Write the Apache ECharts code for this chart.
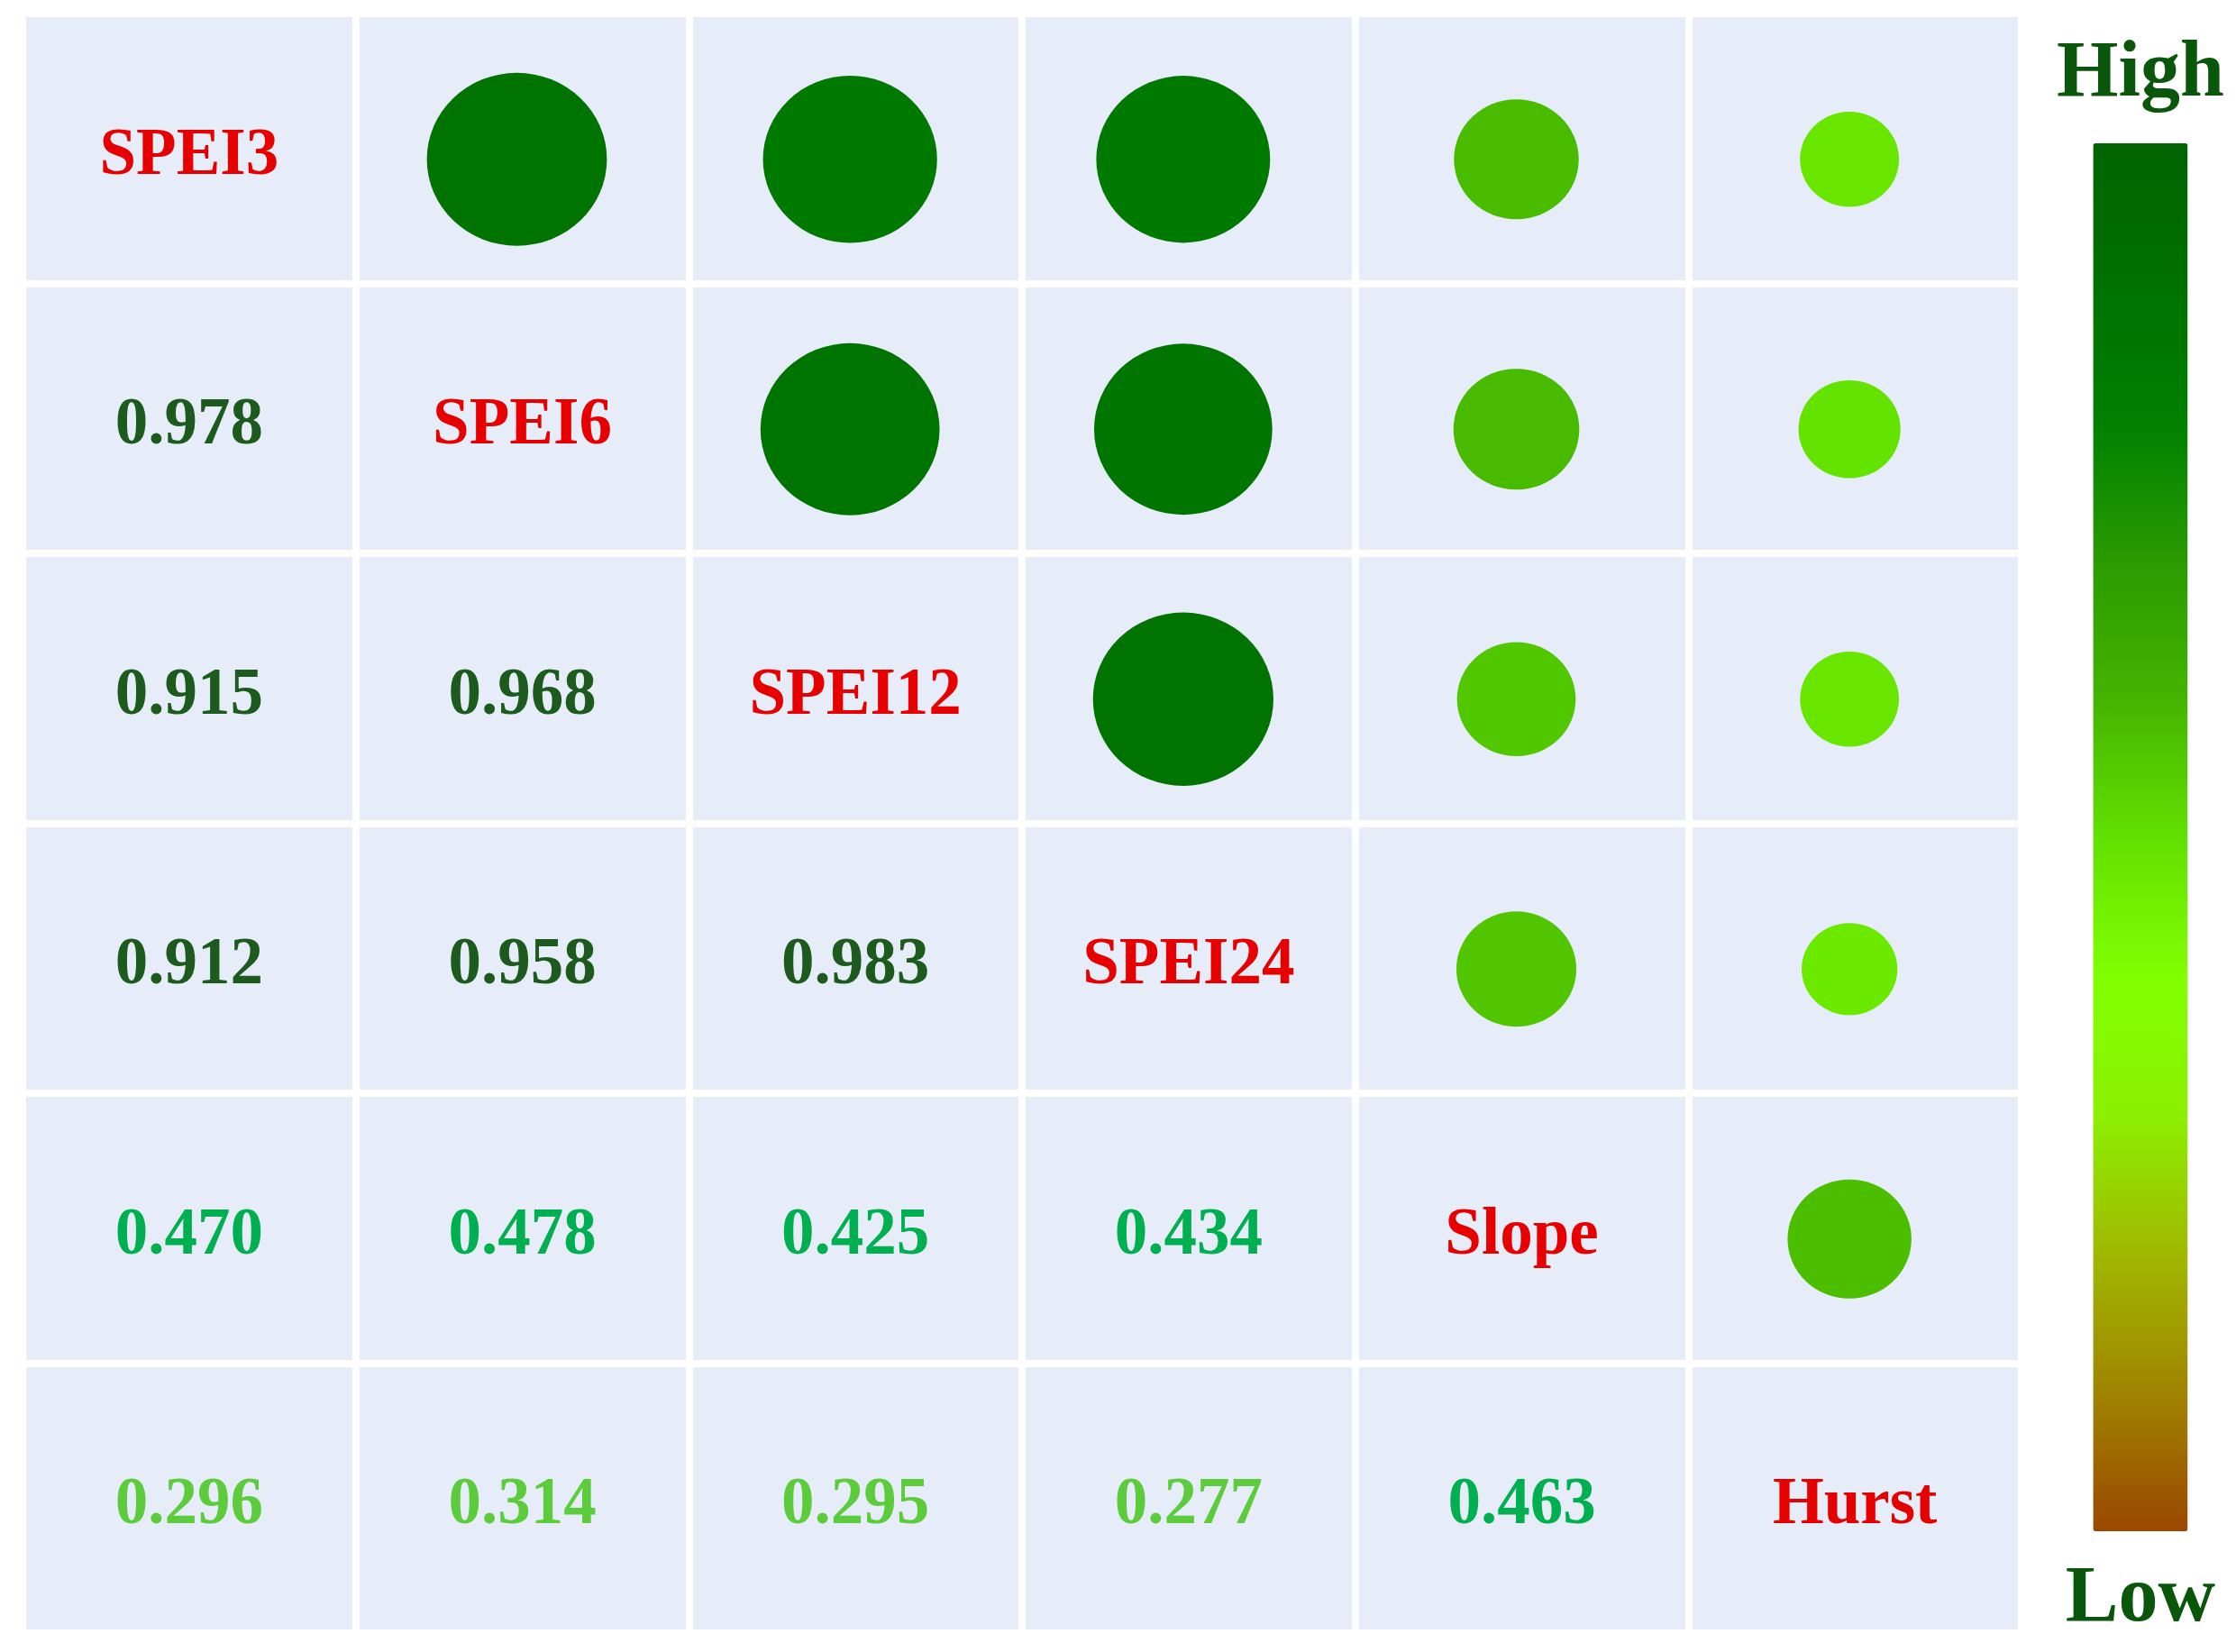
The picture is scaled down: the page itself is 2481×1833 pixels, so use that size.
<!DOCTYPE html>
<html>
<head>
<meta charset="utf-8">
<title>SPEI correlation matrix</title>
<script src="https://cdn.jsdelivr.net/npm/echarts@6/dist/echarts.min.js"></script>
<style>
html, body { margin: 0; padding: 0; background: #fff; }
#chart { width: 2481px; height: 1833px; }
</style>
</head>
<body>
<div id="chart"></div>
<script>
const names = ['SPEI3', 'SPEI6', 'SPEI12', 'SPEI24', 'Slope', 'Hurst'];
// lower triangle of the correlation matrix, one array per row
const rSPEI6 = [0.978];
const rSPEI12 = [0.915, 0.968];
const rSPEI24 = [0.912, 0.958, 0.983];
const rSlope = [0.470, 0.478, 0.425, 0.434];
const rHurst = [0.296, 0.314, 0.295, 0.277, 0.463];
const lowerRows = [[], rSPEI6, rSPEI12, rSPEI24, rSlope, rHurst];

// colour bar stops, low -> high
const barColors = ['#9a4800', '#a08400', '#a0b800', '#8cf000', '#80ff00', '#62e000',
                   '#44b400', '#2a9a00', '#008000', '#007000', '#006400'];

function numColor(v) {
  if (v > 0.8) return '#1d5a1d';
  if (v > 0.4) return '#00b050';
  return '#5ccc3c';
}

const circles = [];  // upper triangle -> [col, row, r]
const numbers = [];  // lower triangle text
const diag = [];
lowerRows.forEach((row, i) => {
  row.forEach((r, j) => {
    circles.push([i, j, r]);
    numbers.push({ value: [j, i, r], label: { color: numColor(r) } });
  });
  diag.push([i, i]);
});

const font = 'Liberation Serif';
let chart = echarts.init(document.getElementById('chart'));
let option = {
  backgroundColor: '#ffffff',
  animation: false,
  grid: { left: 25, right: 238, top: 15, bottom: 21 },
  xAxis: {
    type: 'category',
    data: names,
    z: 1,
    axisLine: { show: false },
    axisTick: { show: false },
    axisLabel: { show: false },
    splitArea: { show: true, areaStyle: { color: ['#e7edf8', '#e7edf8'] } },
    splitLine: { show: true, lineStyle: { color: '#ffffff', width: 8 } }
  },
  yAxis: {
    type: 'category',
    data: names,
    inverse: true,
    z: 2,
    axisLine: { show: false },
    axisTick: { show: false },
    axisLabel: { show: false },
    splitLine: { show: true, lineStyle: { color: '#ffffff', width: 8 } }
  },
  visualMap: {
    type: 'continuous',
    seriesIndex: 0,
    min: -0.52,
    max: 1.18,
    calculable: false,
    hoverLink: false,
    orient: 'vertical',
    left: 2267,
    top: 24,
    itemWidth: 105,
    itemHeight: 1540,
    text: ['High', 'Low'],
    textGap: 32,
    textStyle: { fontFamily: font, fontWeight: 'bold', fontSize: 88, color: '#0a560a' },
    inRange: { color: barColors }
  },
  series: [
    {
      name: 'circles',
      type: 'scatter',
      symbol: 'circle',
      symbolSize: val => [202 * Math.sqrt(val[2]), 194 * Math.sqrt(val[2])],
      symbolOffset: [-6, 12],
      itemStyle: { opacity: 1 },
      data: circles,
      z: 3,
      emphasis: { disabled: true }
    },
    {
      name: 'values',
      type: 'scatter',
      symbolSize: 1,
      itemStyle: { color: 'transparent', opacity: 1 },
      label: {
        show: true,
        position: 'inside',
        offset: [0, 9],
        formatter: p => p.value[2].toFixed(3),
        fontFamily: font,
        fontWeight: 'bold',
        fontSize: 73
      },
      data: numbers,
      z: 4,
      emphasis: { disabled: true }
    },
    {
      name: 'names',
      type: 'scatter',
      symbolSize: 1,
      itemStyle: { color: 'transparent', opacity: 1 },
      label: {
        show: true,
        position: 'inside',
        offset: [0, 9],
        formatter: p => names[p.value[0]],
        fontFamily: font,
        fontWeight: 'bold',
        fontSize: 73,
        color: '#e60000'
      },
      data: diag,
      z: 4,
      emphasis: { disabled: true }
    }
  ]
};
chart.setOption(option);
</script>
</body>
</html>
